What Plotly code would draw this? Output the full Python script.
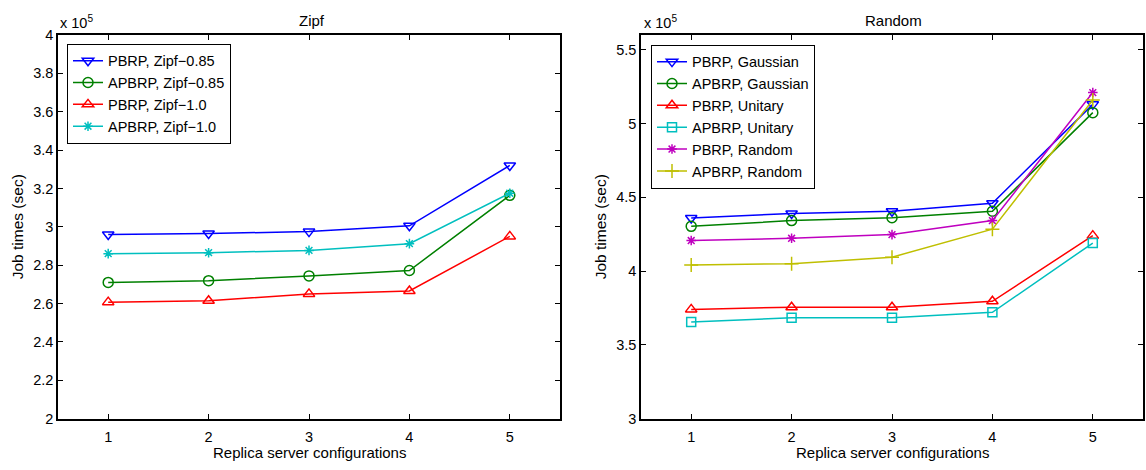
import plotly.graph_objects as go

x_configs = [1, 2, 3, 4, 5]

# Zipf panel (x 10^5 sec)
zipf_pbrp_085 = [2.96, 2.965, 2.975, 3.005, 3.32]
zipf_apbrp_085 = [2.71, 2.719, 2.744, 2.772, 3.164]
zipf_pbrp_10 = [2.607, 2.614, 2.65, 2.665, 2.95]
zipf_apbrp_10 = [2.86, 2.865, 2.877, 2.912, 3.175]

# Random panel (x 10^5 sec)
rnd_pbrp_gauss = [4.36, 4.39, 4.405, 4.46, 5.13]
rnd_apbrp_gauss = [4.303, 4.342, 4.362, 4.405, 5.074]
rnd_pbrp_unit = [3.74, 3.755, 3.755, 3.795, 4.24]
rnd_apbrp_unit = [3.655, 3.683, 3.683, 3.72, 4.19]
rnd_pbrp_rand = [4.207, 4.222, 4.247, 4.342, 5.21]
rnd_apbrp_rand = [4.041, 4.05, 4.094, 4.284, 5.16]

zipf_yticks = [2, 2.2, 2.4, 2.6, 2.8, 3, 3.2, 3.4, 3.6, 3.8, 4]
zipf_yticklabels = ["2", "2.2", "2.4", "2.6", "2.8", "3", "3.2", "3.4", "3.6", "3.8", "4"]
rnd_yticks = [3, 3.5, 4, 4.5, 5, 5.5]
rnd_yticklabels = ["3", "3.5", "4", "4.5", "5", "5.5"]

BLUE = "rgb(0,0,255)"
GREEN = "rgb(0,128,0)"
RED = "rgb(255,0,0)"
CYAN = "rgb(0,191,191)"
MAGENTA = "rgb(191,0,191)"
YELLOW = "rgb(191,191,0)"
FONT = "Liberation Sans, Arial, sans-serif"

fig = go.Figure()

def add(y, name, color, symbol, xa, ya, legend, msize=10):
    fig.add_trace(go.Scatter(
        x=x_configs, y=y, name=name, mode="lines+markers",
        line=dict(color=color, width=1.5),
        marker=dict(symbol=symbol, size=msize, color=color,
                    line=dict(color=color, width=1.5)),
        xaxis=xa, yaxis=ya, legend=legend))

add(zipf_pbrp_085, "PBRP, Zipf\u22120.85", BLUE, "triangle-down-open", "x", "y", "legend")
add(zipf_apbrp_085, "APBRP, Zipf\u22120.85", GREEN, "circle-open", "x", "y", "legend")
add(zipf_pbrp_10, "PBRP, Zipf\u22121.0", RED, "triangle-up-open", "x", "y", "legend")
add(zipf_apbrp_10, "APBRP, Zipf\u22121.0", CYAN, "asterisk-open", "x", "y", "legend", 8)

add(rnd_pbrp_gauss, "PBRP, Gaussian", BLUE, "triangle-down-open", "x2", "y2", "legend2")
add(rnd_apbrp_gauss, "APBRP, Gaussian", GREEN, "circle-open", "x2", "y2", "legend2")
add(rnd_pbrp_unit, "PBRP, Unitary", RED, "triangle-up-open", "x2", "y2", "legend2")
add(rnd_apbrp_unit, "APBRP, Unitary", CYAN, "square-open", "x2", "y2", "legend2", 9)
add(rnd_pbrp_rand, "PBRP, Random", MAGENTA, "asterisk-open", "x2", "y2", "legend2", 8)
add(rnd_apbrp_rand, "APBRP, Random", YELLOW, "cross-thin-open", "x2", "y2", "legend2", 10)

W, H = 1146, 470
top_px, bot_px = 28, 425
ydom = [1 - bot_px / H, 1 - top_px / H]

axis_common = dict(showline=True, linecolor="black", linewidth=1.5, mirror="ticks",
                   ticks="inside", ticklen=5, tickcolor="black", tickwidth=1,
                   showgrid=False, zeroline=False,
                   tickfont=dict(family=FONT, size=14.5, color="black"))

fig.update_layout(
    width=W, height=H,
    margin=dict(l=0, r=0, t=0, b=0),
    paper_bgcolor="white", plot_bgcolor="white",
    font=dict(family=FONT, size=14.5, color="black"),
    xaxis=dict(domain=[58 / W, 560 / W], range=[0.5, 5.5], tickvals=x_configs,
               anchor="y", ticklabelstandoff=4, **axis_common),
    yaxis=dict(domain=ydom, range=[2, 4], tickvals=zipf_yticks, ticktext=zipf_yticklabels,
               anchor="x", **axis_common),
    xaxis2=dict(domain=[641 / W, 1143 / W], range=[0.5, 5.5], tickvals=x_configs,
                anchor="y2", ticklabelstandoff=4, **axis_common),
    yaxis2=dict(domain=ydom, range=[3, 5.6], tickvals=rnd_yticks, ticktext=rnd_yticklabels,
                anchor="x2", **axis_common),
    legend=dict(x=67 / W, y=1 - 37 / H, xanchor="left", yanchor="top",
                bgcolor="white", bordercolor="black", borderwidth=1,
                font=dict(family=FONT, size=14.5, color="black"), tracegroupgap=0),
    legend2=dict(x=651 / W, y=1 - 38 / H, xanchor="left", yanchor="top",
                 bgcolor="white", bordercolor="black", borderwidth=1,
                 font=dict(family=FONT, size=14.5, color="black"), tracegroupgap=0),
    showlegend=True,
)

annotations = [
    dict(text="Zipf", x=312 / W, y=1 - 13 / H, size=15),
    dict(text="Random", x=893 / W, y=1 - 13 / H, size=15),
    dict(text="x 10<sup>5</sup>", x=76 / W, y=1 - 15 / H, size=14.5),
    dict(text="x 10<sup>5</sup>", x=660 / W, y=1 - 15 / H, size=14.5),
    dict(text="Replica server configurations", x=309 / W, y=1 - 460 / H, size=15),
    dict(text="Replica server configurations", x=892 / W, y=1 - 460 / H, size=15),
    dict(text="Job times (sec)", x=17 / W, y=1 - 227 / H, textangle=-90, size=15.5),
    dict(text="Job times (sec)", x=600 / W, y=1 - 227 / H, textangle=-90, size=15.5),
]
for a in annotations:
    size = a.pop("size")
    fig.add_annotation(xref="paper", yref="paper", showarrow=False,
                       xanchor="center", yanchor="middle",
                       font=dict(family=FONT, size=size, color="black"), **a)

fig.write_html("out.html")
